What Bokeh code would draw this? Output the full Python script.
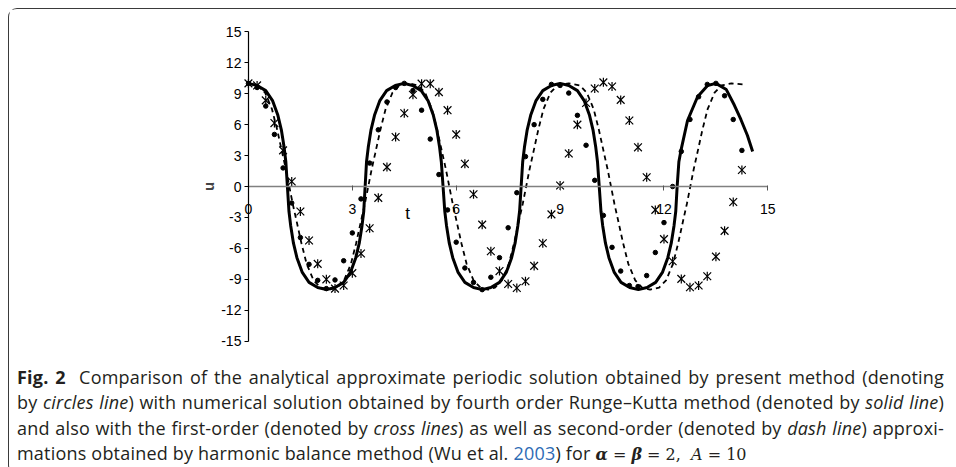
from bokeh.plotting import figure
from bokeh.models import Label, Div, FixedTicker, Range1d
from bokeh.layouts import column
from bokeh.embed import file_html
from bokeh.resources import INLINE
import numpy as np

# ---- data ----
# fourth order Runge-Kutta (solid line)
t_rk = [0.00, 0.25, 0.50, 0.70, 0.85, 0.95, 1.03, 1.08, 1.125, 1.17, 1.22, 1.30, 1.40, 1.55, 1.75, 2.00, 2.25,
        2.50, 2.75, 2.95, 3.10, 3.20, 3.28, 3.33, 3.37, 3.41, 3.46, 3.54, 3.64, 3.79, 3.99, 4.24, 4.49,
        4.74, 4.99, 5.19, 5.34, 5.44, 5.52, 5.57, 5.62, 5.67, 5.72, 5.80, 5.90, 6.05, 6.25, 6.50, 6.75,
        7.00, 7.25, 7.45, 7.60, 7.70, 7.78, 7.83, 7.875, 7.92, 7.97, 8.05, 8.15, 8.30, 8.50, 8.75, 9.00,
        9.25, 9.50, 9.70, 9.85, 9.95, 10.03, 10.08, 10.13, 10.18, 10.23, 10.31, 10.41, 10.56, 10.76, 11.01, 11.26,
        11.51, 11.76, 11.96, 12.11, 12.21, 12.29, 12.34, 12.38, 12.43, 12.49, 12.68, 12.97, 13.26, 13.50,
        13.80, 14.03, 14.22, 14.41, 14.56]
u_rk = [10.0, 9.8, 9.3, 8.3, 6.9, 5.5, 3.8, 2.4, 0.0, -2.4, -3.8, -5.5, -6.9, -8.3, -9.3, -9.8, -10.0,
        -9.8, -9.3, -8.3, -6.9, -5.5, -3.8, -2.4, 0.0, 2.4, 3.8, 5.5, 6.9, 8.3, 9.3, 9.8, 10.0,
        9.8, 9.3, 8.3, 6.9, 5.5, 3.8, 2.4, 0.0, -2.4, -3.8, -5.5, -6.9, -8.3, -9.3, -9.8, -10.0,
        -9.8, -9.3, -8.3, -6.9, -5.5, -3.8, -2.4, 0.0, 2.4, 3.8, 5.5, 6.9, 8.3, 9.3, 9.8, 10.0,
        9.8, 9.3, 8.3, 6.9, 5.5, 3.8, 2.4, 0.0, -2.4, -3.8, -5.5, -6.9, -8.3, -9.3, -9.8, -10.0,
        -9.8, -9.3, -8.3, -6.9, -5.5, -3.8, -2.4, 0.0, 2.4, 3.5, 6.4, 8.7, 9.8, 10.0,
        9.4, 7.9, 6.5, 4.95, 3.4]

# second-order harmonic balance (dash line)
t_dash = [0.00, 0.28, 0.48, 0.68, 0.83, 0.98, 1.08, 1.18, 1.28, 1.38, 1.53, 1.68, 1.88, 2.08, 2.32,
          2.56, 2.76, 2.96, 3.11, 3.26, 3.36, 3.46, 3.56, 3.66, 3.81, 3.96, 4.16, 4.36, 4.63,
          4.90, 5.10, 5.30, 5.45, 5.60, 5.70, 5.80, 5.90, 6.00, 6.15, 6.30, 6.50, 6.70, 6.92,
          7.12, 7.32, 7.52, 7.67, 7.82, 7.92, 8.02, 8.12, 8.22, 8.37, 8.52, 8.72, 8.92, 9.25,
          9.57, 9.77, 9.97, 10.12, 10.27, 10.37, 10.47, 10.57, 10.67, 10.82, 10.97, 11.17, 11.37, 11.60,
          11.86, 12.06, 12.26, 12.41, 12.56, 12.66, 12.76, 12.86, 12.96, 13.11, 13.26, 13.46, 13.66, 13.95, 14.27]
u_dash = [10.0, 9.8, 9.1, 7.5, 5.5, 3.2, 1.7, 0.0, -1.7, -3.2, -5.5, -7.5, -9.1, -9.8, -10.0,
          -9.8, -9.1, -7.5, -5.5, -3.2, -1.7, 0.0, 1.7, 3.2, 5.5, 7.5, 9.1, 9.8, 10.0,
          9.8, 9.1, 7.5, 5.5, 3.2, 1.7, 0.0, -1.7, -3.2, -5.5, -7.5, -9.1, -9.8, -10.0,
          -9.8, -9.1, -7.5, -5.5, -3.2, -1.7, 0.0, 1.7, 3.2, 5.5, 7.5, 9.1, 9.8, 10.0,
          9.8, 9.1, 7.5, 5.5, 3.2, 1.7, 0.0, -1.7, -3.2, -5.5, -7.5, -9.1, -9.8, -10.0,
          -9.8, -9.1, -7.5, -5.5, -3.2, -1.7, 0.0, 1.7, 3.2, 5.5, 7.5, 9.1, 9.8, 10.0, 9.9]

# present method (circles)
t_circ = [0.00, 0.25, 0.50, 0.75, 1.00, 1.25, 1.50, 1.75, 2.00, 2.25, 2.50, 2.75, 3.00, 3.25, 3.50, 3.75,
          4.00, 4.25, 4.50, 4.75, 5.00, 5.25, 5.50, 5.75, 6.00, 6.25, 6.50, 6.75, 7.00, 7.25, 7.50, 7.75,
          8.00, 8.25, 8.50, 8.75, 9.00, 9.25, 9.50, 9.75, 10.00, 10.25, 10.50, 10.75, 11.00, 11.25, 11.50, 11.75,
          12.00, 12.25, 12.50, 12.75, 13.00, 13.25, 13.50, 13.75, 14.00, 14.25]
u_circ = [10.0, 9.6, 7.8, 5.05, 1.8, -1.6, -4.95, -7.55, -9.1, -9.9, -9.06, -7.2, -4.5, -1.2, 2.27, 5.5,
          8.2, 9.6, 10.0, 9.3, 7.4, 4.6, 1.16, -2.27, -5.4, -7.9, -9.3, -10.0, -8.8, -6.9, -4.0, -0.6,
          2.9, 6.0, 8.45, 9.9, 9.8, 9.06, 6.9, 4.0, 0.6, -2.8, -5.9, -8.2, -9.6, -9.7, -8.64, -6.4,
          -3.5, 0.0, 3.4, 6.5, 8.7, 9.9, 10.0, 8.8, 6.5, 3.5]

# first-order harmonic balance (crosses)
t_cross = [0.00, 0.25, 0.50, 0.75, 1.00, 1.25, 1.50, 1.75, 2.00, 2.25, 2.50, 2.75, 3.00, 3.25, 3.50, 3.75,
           4.00, 4.25, 4.50, 4.75, 5.00, 5.25, 5.50, 5.75, 6.00, 6.25, 6.50, 6.75, 7.00, 7.25, 7.50, 7.75,
           8.00, 8.25, 8.50, 8.75, 9.00, 9.25, 9.50, 9.75, 10.00, 10.25, 10.50, 10.75, 11.00, 11.25, 11.50, 11.75,
           12.00, 12.25, 12.50, 12.75, 13.00, 13.25, 13.50, 13.75, 14.00, 14.25]
u_cross = [10.0, 9.8, 8.35, 6.15, 3.5, 0.49, -2.43, -5.24, -7.5, -9.0, -9.9, -9.6, -8.4, -6.5, -4.05, -1.1,
           1.88, 4.8, 7.1, 8.9, 9.97, 9.97, 9.15, 7.4, 5.05, 2.2, -0.75, -3.7, -6.28, -8.2, -9.45, -9.84,
           -9.19, -7.7, -5.5, -2.7, 0.1, 3.2, 6.0, 8.1, 9.5, 10.1, 9.7, 8.4, 6.4, 3.8, 0.9, -2.27,
           -5.1, -7.25, -8.96, -9.77, -9.6, -8.7, -6.8, -4.3, -1.5, 1.6]

x_ticks = [0, 3, 6, 9, 12, 15]
y_ticks = [-15, -12, -9, -6, -3, 0, 3, 6, 9, 12, 15]
x_bounds = (0, 15)
y_bounds = (-15, 15)
x_title = "t"
y_title = "u"
x_title_pos = 4.6

AXFONT = "Liberation Sans"

p = figure(width=948, height=346, x_range=Range1d(-1.5, 16), y_range=Range1d(-16, 16),
           output_backend="svg", toolbar_location=None,
           min_border_left=187, min_border_right=155, min_border_top=12, min_border_bottom=4)
p.grid.visible = False
p.outline_line_color = None
p.background_fill_color = "white"
p.border_fill_color = "white"

xa = p.xaxis[0]
xa.fixed_location = 0
xa.bounds = x_bounds
xa.ticker = FixedTicker(ticks=x_ticks)
xa.major_label_overrides = {v: str(v) for v in x_ticks}
xa.axis_line_color = "#808080"
xa.axis_line_width = 1.6
xa.major_tick_line_color = "#555555"
xa.major_tick_out = 4
xa.major_tick_in = 1
xa.minor_tick_line_color = None
xa.major_label_text_font = AXFONT
xa.major_label_text_font_size = "14px"
xa.major_label_text_color = "black"
xa.major_label_standoff = 13

ya = p.yaxis[0]
ya.fixed_location = 0
ya.bounds = y_bounds
ya.ticker = FixedTicker(ticks=y_ticks)
ya.major_label_overrides = {v: str(v) for v in y_ticks}
ya.axis_line_color = "black"
ya.axis_line_width = 1.2
ya.major_tick_line_color = "black"
ya.major_tick_out = 4
ya.major_tick_in = 0
ya.minor_tick_line_color = None
ya.major_label_text_font = AXFONT
ya.major_label_text_font_size = "14px"
ya.major_label_text_color = "black"
ya.major_label_standoff = 3
ya.axis_label = y_title
ya.axis_label_text_font = AXFONT
ya.axis_label_text_font_style = "bold"
ya.axis_label_text_font_size = "15px"
ya.axis_label_standoff = 1

p.line(t_dash, u_dash, line_color="black", line_width=1.8, line_dash="5 4")
p.line(t_rk, u_rk, line_color="black", line_width=3)
p.scatter(t_circ, u_circ, marker="circle", size=4.5, fill_color="black", line_color="black")
p.scatter(t_cross, u_cross, marker="x", size=11, line_color="black", line_width=1.2)
p.scatter(t_cross, u_cross, marker="dash", angle=np.pi / 2, size=9, line_color="black", line_width=1.2)

p.add_layout(Label(x=x_title_pos, y=0, text=x_title, y_offset=-27, text_align="center",
                   text_baseline="middle", text_font=AXFONT, text_font_size="17px", text_color="black"))

LINE = ("<div style=\"width:927px;text-align:justify;text-align-last:justify;white-space:nowrap;\">%s</div>")
LAST = ("<div style=\"width:927px;text-align:left;white-space:nowrap;\">%s</div>")
math = ("<span style=\"font-family:'DejaVu Serif';font-size:16px;letter-spacing:0\"><i><b>&alpha;</b></i> = "
        "<i><b>&beta;</b></i> = 2,&nbsp; <i>A</i> = 10</span>")
lines = [
    LINE % "<b>Fig. 2</b>&nbsp; Comparison of the analytical approximate periodic solution obtained by present method (denoting",
    LINE % "by <i>circles line</i>) with numerical solution obtained by fourth order Runge&ndash;Kutta method (denoted by <i>solid line</i>)",
    LINE % "and also with the first-order (denoted by <i>cross lines</i>) as well as second-order (denoted by <i>dash line</i>) approxi-",
    LAST % ("mations obtained by harmonic balance method (Wu et al. <span style=\"color:#2d6bb5\">2003</span>) for " + math),
]
caption = ("<div style=\"font-family:'Open Sans';font-size:18px;letter-spacing:0.2px;line-height:25.3px;"
           "color:#231f20;padding:5px 0 0 3px;\">" + "".join(lines) + "</div>")
cap = Div(text=caption, width=948, height=108, styles={"overflow": "visible"})

lay = column(p, cap, styles={"border": "1px solid #3a3a3a", "border-right": "none",
                             "border-radius": "9px 0 0 9px", "background": "white",
                             "margin-left": "8px", "margin-top": "8px"})

open("out.html", "w").write(file_html(lay, INLINE))
